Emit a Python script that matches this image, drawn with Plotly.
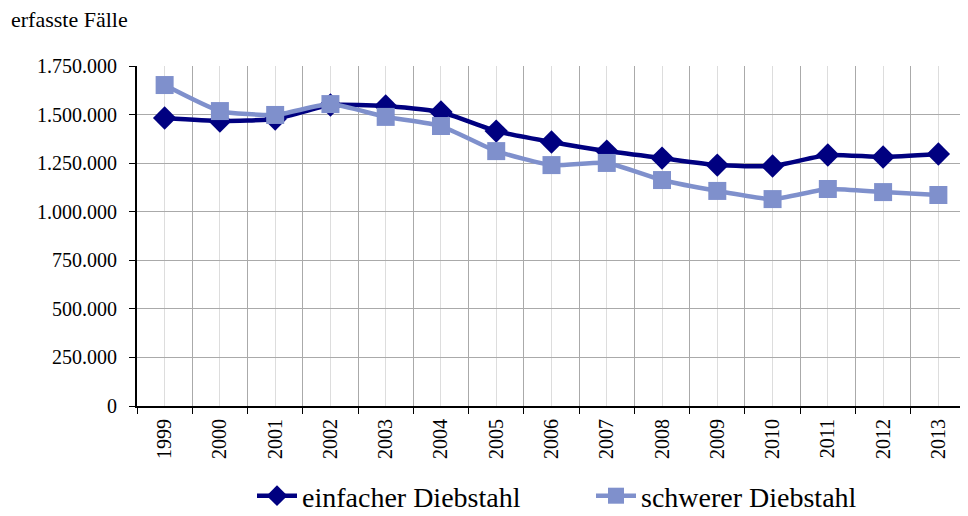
import plotly.graph_objects as go

years = [1999, 2000, 2001, 2002, 2003, 2004, 2005, 2006, 2007, 2008, 2009, 2010, 2011, 2012, 2013]
einfacher = [1482000, 1467000, 1477000, 1549000, 1544000, 1513000, 1415000, 1359000,
             1312000, 1276000, 1240000, 1235000, 1292000, 1282000, 1297000]
schwerer = [1652000, 1518000, 1498000, 1554000, 1488000, 1441000, 1312000, 1240000,
            1251000, 1163000, 1107000, 1065000, 1117000, 1101000, 1086000]
y_ticks = [0, 250000, 500000, 750000, 1000000, 1250000, 1500000, 1750000]

font = "Liberation Serif, Times New Roman, serif"

W, H = 960, 508
L, T, R, B = 129, 58, 2, 110
PW, PH = W - L - R, H - T - B

fig = go.Figure()
fig.add_trace(go.Scatter(
    x=years, y=einfacher, name="einfacher Diebstahl", mode="lines+markers",
    line=dict(color="#000080", width=4.5, shape="spline", smoothing=0.5),
    marker=dict(symbol="diamond", size=18, color="#000080"),
))
fig.add_trace(go.Scatter(
    x=years, y=schwerer, name="schwerer Diebstahl", mode="lines+markers",
    line=dict(color="#7F90CC", width=4.5, shape="spline", smoothing=0.5),
    marker=dict(symbol="square", size=18, color="#7F90CC"),
))

fig.update_layout(
    width=W, height=H,
    margin=dict(l=L, r=R, t=T, b=B, autoexpand=False),
    paper_bgcolor="white", plot_bgcolor="white",
    separators=",.",
    font=dict(family=font, size=20, color="black"),
    showlegend=True,
    legend=dict(orientation="h", xref="container", yref="container",
                x=244 / W, xanchor="left", y=20 / H, yanchor="middle",
                font=dict(size=28, family=font), entrywidth=284, itemwidth=40,
                bgcolor="rgba(0,0,0,0)"),
    annotations=[dict(text="erfasste Fälle", xref="paper", yref="paper",
                      x=-(L - 2) / PW, y=1 + 47 / PH, xanchor="left", yanchor="middle",
                      showarrow=False, borderpad=0, font=dict(size=22, family=font))],
)
fig.update_xaxes(
    range=[years[0] - 0.5, years[-1] + 0.5],
    tickvals=years, ticktext=[str(y) for y in years], tickangle=-90,
    ticks="", ticklen=0, automargin=False, ticklabelstandoff=3,
    showgrid=True, gridcolor="#DDDDDD", gridwidth=1,
    showline=True, linecolor="black", linewidth=2,
    zeroline=False,
    minor=dict(tick0=years[0] - 0.5, dtick=1, ticks="outside", ticklen=6,
               tickcolor="black", showgrid=True, gridcolor="#AAAAAA", gridwidth=1),
    tickfont=dict(size=20, family=font),
)
fig.update_yaxes(
    range=[0, 1750000], tickvals=y_ticks, tickformat=",d",
    ticks="outside", ticklen=6, tickcolor="black", automargin=False,
    ticklabelstandoff=8,
    showgrid=True, gridcolor="#AAAAAA", gridwidth=1,
    showline=True, linecolor="black", linewidth=2,
    zeroline=False,
    tickfont=dict(size=20, family=font),
)

fig.write_html("out.html")
